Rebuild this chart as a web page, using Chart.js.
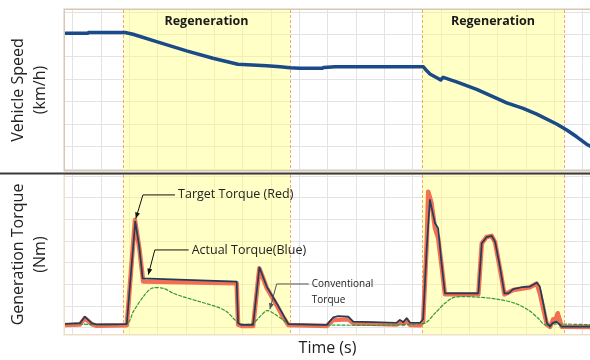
<!DOCTYPE html>
<html>
<head>
<meta charset="utf-8">
<script src="https://cdn.jsdelivr.net/npm/chart.js@4.4.1/dist/chart.umd.min.js"></script>
<style>
  html, body { margin: 0; padding: 0; background: #ffffff; }
  #wrap { position: relative; width: 590px; height: 360px; overflow: hidden; }
  canvas { position: absolute; left: 0; }
  #speedChart { top: 0; }
  #torqueChart { top: 172px; }
</style>
</head>
<body>
<div id="wrap">
  <canvas id="speedChart" width="590" height="172"></canvas>
  <canvas id="torqueChart" width="590" height="188"></canvas>
</div>
<script>
// gridlines (no tick labels shown in the figure)
const GRID_TIMES = [0, 10, 20, 30, 40, 50, 60, 70, 80, 90, 100, 110, 120, 130, 140, 150, 160, 170, 180];
const SPEED_TICKS = [0, 10, 20, 30, 40, 50, 60, 70];
const TORQUE_TICKS = [0, 10, 20, 30, 40, 50, 60, 70];

// regeneration windows (s)
const REGEN_START = [17.7, 123.2];
const REGEN_END = [76.6, 173.3];
const REGEN_LABEL = 'Regeneration';

// vehicle speed
const speedTime = [-3, 5.3, 5.5, 18.4, 21.2, 29.5, 40.1, 49.4, 58.2, 68.4, 73.1, 76.6, 80.1, 87.9, 88.6, 92.5,
  123.7, 124.9, 126.0, 128.9, 129.8, 130.7, 135.4, 142.5, 149.6, 153.1, 158.9, 163.7, 170.7, 174.3, 177.8, 181.3, 183.2];
const speedKmh = [60.5, 60.5, 60.9, 60.9, 60.1, 56.8, 52.7, 49.4, 46.7, 46.1, 45.6, 45.2, 44.9, 44.9, 45.3, 45.6,
  45.6, 43.8, 42.4, 40.4, 39.7, 40.9, 38.9, 35.5, 31.5, 29.5, 27.1, 24.5, 20.1, 17.4, 14.4, 11.1, 9.8];

// actual torque (blue)
const actualTime = [-3, 2.5, 4.2, 6.6, 8.4, 19.0, 22.0, 23.4, 24.6, 57.8, 58.3, 59.5, 63.6, 65.8, 68.4, 71.9, 74.2, 76.0,
  89.6, 90.1, 91.9, 93.6, 97.2, 98.9, 114.3, 115.4, 116.6, 117.8, 119.0, 122.5, 123.6, 124.9, 126.0, 127.8, 128.9,
  130.1, 131.3, 143.1, 144.3, 146.0, 147.8, 149.0, 150.7, 152.3, 153.7, 155.4, 158.4, 161.3, 163.7, 164.8, 166.0,
  167.3, 168.4, 169.2, 170.7, 172.5, 183];
const actualNm = [1.8, 2.2, 5.2, 2.2, 1.6, 1.8, 49.1, 37.5, 22.9, 21.4, 2.2, 1.4, 1.4, 28.0, 19.1, 11.4, 6.0, 1.8,
  1.4, 2.2, 4.9, 5.5, 5.2, 2.9, 2.4, 3.7, 2.6, 4.5, 2.4, 2.4, 4.0, 37.5, 59.1, 48.3, 46.0,
  29.9, 16.0, 16.0, 39.1, 41.9, 42.5, 39.8, 28.3, 16.0, 16.0, 17.9, 18.8, 19.1, 20.9, 19.1, 11.4,
  2.2, 0.6, 2.2, 2.9, 0.6, 0.6];

// target torque (red)
const targetTime = [-3, 2.5, 4.2, 6.6, 8.4, 19.0, 21.9, 23.4, 24.8, 57.8, 58.3, 59.5, 63.6, 65.8, 68.4, 71.9, 74.2, 76.0,
  89.6, 91.9, 97.2, 98.9, 114.3, 115.4, 116.6, 117.8, 119.0, 122.5, 123.6, 124.9, 125.4, 126.5, 127.8, 128.9, 130.1,
  131.3, 143.1, 144.3, 146.0, 147.8, 149.0, 150.7, 152.3, 155.4, 161.3, 163.7, 164.8, 166.0, 167.3, 168.4, 169.5,
  170.1, 171.1, 172.5, 183];
const targetNm = [1.4, 1.6, 4.5, 1.8, 1.0, 1.2, 49.8, 37.0, 21.4, 20.6, 1.5, 0.9, 0.9, 27.5, 18.5, 10.5, 5.0, 1.4,
  0.9, 3.7, 4.0, 2.2, 1.6, 2.8, 1.8, 3.7, 1.4, 1.2, 3.0, 40.0, 62.9, 58.0, 46.0, 41.5, 29.0,
  15.5, 15.5, 39.0, 42.0, 42.5, 39.5, 27.5, 15.5, 17.5, 18.8, 20.5, 16.0, 9.0, 1.5, 0.5, 4.0,
  3.0, 6.8, 0.6, 0.4];

// conventional torque (green dashed)
const convTime = [-3, 19.0, 21.3, 24.8, 27.8, 31.9, 35.4, 38.9, 44.8, 50.7, 54.3, 57.2, 59.5, 63.6, 66.0, 68.4, 70.7,
  74.2, 76.6, 123.6, 127.8, 131.3, 134.8, 143.1, 150.1, 156.0, 160.7, 164.2, 166.6, 170.1, 172.5, 183];
const convNm = [2.0, 2.0, 7.5, 14.4, 18.3, 18.3, 16.0, 14.4, 12.1, 9.8, 7.5, 3.7, 1.8, 2.2, 5.2, 8.0, 6.8,
  3.7, 1.8, 2.0, 6.8, 11.4, 14.2, 14.2, 13.2, 11.4, 8.3, 4.5, 1.4, 1.8, 1.8, 1.5];

// callouts on the torque panel, in data units (time, torque)
const CALLOUTS = [
  { lines: ['Target Torque (Red)'], at: [37.1, 61.4], elbow: [24.7, 61.4], tip: [22.2, 50.5], size: 12.5, line: '#111' },
  { lines: ['Actual Torque(Blue)'], at: [41.9, 36.0], elbow: [28.9, 36.0], tip: [26.6, 24.6], size: 12.5, line: '#111' },
  { lines: ['Conventional', 'Torque'], at: [84.3, 20.3], elbow: [71.9, 20.3], tip: [69.5, 8.6], size: 10, line: '#555' }
];

const FONT = "'Open Sans', 'Liberation Sans', sans-serif";
const pts = (xs, ys) => xs.map((x, i) => ({ x, y: ys[i] }));

const panelPlugin = {
  id: 'panel',
  beforeDatasetsDraw(chart, args, opts) {
    const { ctx, chartArea: a, scales: { x } } = chart;
    ctx.save();
    REGEN_START.forEach((start, i) => {
      const x0 = x.getPixelForValue(start);
      const x1 = x.getPixelForValue(REGEN_END[i]);
      ctx.fillStyle = 'rgba(255, 255, 120, 0.42)';
      ctx.fillRect(x0, a.top, x1 - x0, a.bottom - a.top);
      ctx.strokeStyle = '#f4a66c';
      ctx.lineWidth = 1;
      ctx.setLineDash([3, 2]);
      [x0, x1].forEach((px) => {
        ctx.beginPath();
        ctx.moveTo(Math.round(px) + 0.5, a.top);
        ctx.lineTo(Math.round(px) + 0.5, a.bottom);
        ctx.stroke();
      });
      ctx.setLineDash([]);
      if (opts.labels) {
        ctx.fillStyle = '#1a1a1a';
        ctx.font = `bold 12.5px ${FONT}`;
        ctx.textAlign = 'center';
        ctx.textBaseline = 'middle';
        ctx.fillText(REGEN_LABEL, (x0 + x1) / 2, a.top + 11);
      }
    });
    ctx.restore();
  },
  afterDraw(chart, args, opts) {
    const { ctx, chartArea: a } = chart;
    ctx.save();
    ctx.strokeStyle = opts.frame;
    ctx.lineWidth = 1.5;
    ctx.strokeRect(a.left - 0.75, a.top - 0.75, a.right - a.left + 10, a.bottom - a.top + 1.5);
    if (opts.separator) {
      ctx.fillStyle = '#3a3a3a';
      ctx.fillRect(0, 0.5, chart.width, 2);
    }
    ctx.restore();
  }
};

const calloutPlugin = {
  id: 'callouts',
  afterDatasetsDraw(chart) {
    const { ctx, scales: { x, y } } = chart;
    ctx.save();
    CALLOUTS.forEach((c) => {
      const tx = x.getPixelForValue(c.at[0]);
      const ty = y.getPixelForValue(c.at[1]);
      const ex = x.getPixelForValue(c.elbow[0]);
      const ey = y.getPixelForValue(c.elbow[1]);
      const px = x.getPixelForValue(c.tip[0]);
      const py = y.getPixelForValue(c.tip[1]);
      ctx.strokeStyle = c.line;
      ctx.fillStyle = c.line;
      ctx.lineWidth = 1;
      ctx.beginPath();
      ctx.moveTo(tx - 3, ey);
      ctx.lineTo(ex, ey);
      ctx.lineTo(px, py);
      ctx.stroke();
      const ang = Math.atan2(py - ey, px - ex);
      ctx.beginPath();
      ctx.moveTo(px, py);
      ctx.lineTo(px - 6 * Math.cos(ang) + 2.5 * Math.sin(ang), py - 6 * Math.sin(ang) - 2.5 * Math.cos(ang));
      ctx.lineTo(px - 6 * Math.cos(ang) - 2.5 * Math.sin(ang), py - 6 * Math.sin(ang) + 2.5 * Math.cos(ang));
      ctx.closePath();
      ctx.fill();
      ctx.fillStyle = '#222';
      ctx.font = `${c.size}px ${FONT}`;
      ctx.textAlign = 'left';
      ctx.textBaseline = 'middle';
      c.lines.forEach((line, i) => ctx.fillText(line, tx, ty + i * c.size * 1.6));
    });
    ctx.restore();
  }
};

function panelOptions({ yMin, yMax, yTicks, yTitle, padTop, padBottom, xTitle, panel }) {
  return {
    responsive: false,
    animation: false,
    devicePixelRatio: 1,
    layout: { padding: { top: padTop, bottom: padBottom, left: 0, right: 0 } },
    plugins: { legend: { display: false }, tooltip: { enabled: false }, panel },
    elements: { line: { borderJoinStyle: 'round', borderCapStyle: 'round' } },
    scales: {
      x: {
        type: 'linear',
        min: -2.8,
        max: 182.5,
        afterBuildTicks: (s) => { s.ticks = GRID_TIMES.map((value) => ({ value })); },
        afterFit: (s) => { s.height = xTitle ? 26 : 0; },
        ticks: { display: false },
        grid: { color: '#e3e3e3', drawTicks: false },
        border: { display: false },
        title: {
          display: !!xTitle,
          text: xTitle || '',
          color: '#222',
          font: { family: FONT, size: 16 },
          padding: { top: 0, bottom: 2 }
        }
      },
      y: {
        min: yMin,
        max: yMax,
        afterBuildTicks: (s) => { s.ticks = yTicks.map((value) => ({ value })); },
        afterFit: (s) => { s.width = 65; },
        ticks: { display: false },
        grid: { color: '#e3e3e3', drawTicks: false },
        border: { display: false },
        title: {
          display: true,
          text: yTitle,
          color: '#222',
          font: { family: FONT, size: 16, lineHeight: 1.375 },
          padding: { top: 7, bottom: 0 }
        }
      }
    }
  };
}

new Chart(document.getElementById('speedChart').getContext('2d'), {
  type: 'line',
  data: {
    datasets: [{
      label: 'Vehicle Speed',
      data: pts(speedTime, speedKmh),
      borderColor: '#1a4a88',
      borderWidth: 3.5,
      pointRadius: 0,
      tension: 0
    }]
  },
  options: panelOptions({
    yMin: -0.4, yMax: 70.9, yTicks: SPEED_TICKS,
    yTitle: ['Vehicle Speed', '(km/h)'],
    padTop: 10, padBottom: 2,
    panel: { labels: true, frame: '#d8c7b2', separator: false }
  }),
  plugins: [panelPlugin]
});

new Chart(document.getElementById('torqueChart').getContext('2d'), {
  type: 'line',
  data: {
    datasets: [
      {
        label: 'Actual Torque',
        data: pts(actualTime, actualNm),
        borderColor: '#1f3d5c',
        borderWidth: 1.7,
        pointRadius: 0,
        tension: 0
      },
      {
        label: 'Conventional Torque',
        data: pts(convTime, convNm),
        borderColor: '#2f9a35',
        borderWidth: 1.2,
        borderDash: [3, 2],
        pointRadius: 0,
        tension: 0.3
      },
      {
        label: 'Target Torque',
        data: pts(targetTime, targetNm),
        borderColor: '#f36f52',
        borderWidth: 4.5,
        pointRadius: 0,
        tension: 0
      }
    ]
  },
  options: panelOptions({
    yMin: -2.8, yMax: 70.6, yTicks: TORQUE_TICKS,
    yTitle: ['Generation Torque', '(Nm)'],
    padTop: 3, padBottom: 0,
    xTitle: 'Time (s)',
    panel: { labels: false, frame: '#eedfc8', separator: true }
  }),
  plugins: [panelPlugin, calloutPlugin]
});
</script>
</body>
</html>
